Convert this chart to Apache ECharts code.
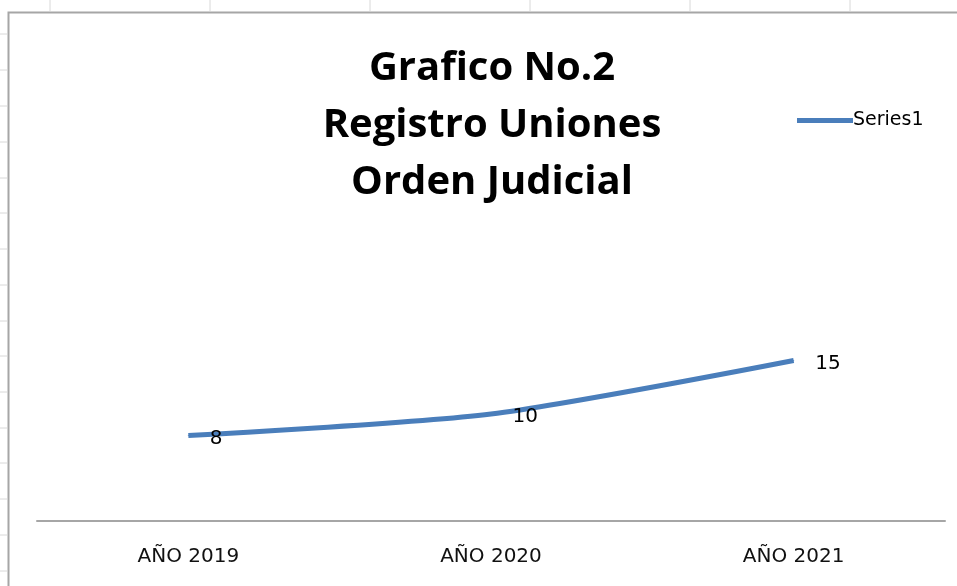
<!DOCTYPE html>
<html><head><meta charset="utf-8">
<script src="https://cdn.jsdelivr.net/npm/echarts@6/dist/echarts.min.js"></script>
<style>html,body{margin:0;padding:0;background:#fff}#c{width:957px;height:586px}</style>
</head><body><div id="c"></div>
<script>
const categories = ['AÑO 2019', 'AÑO 2020', 'AÑO 2021'];
const seriesName = 'Series1';
const values = [8, 10, 15];
const titleLines = ['Grafico No.2', 'Registro Uniones', 'Orden Judicial'];

const chart = echarts.init(document.getElementById('c'));
const sheetMarks = [];
// Excel sheet column ticks (top strip) and row ticks (left strip)
[50, 210, 370, 530, 690, 850].forEach(x => sheetMarks.push({type:'line', shape:{x1:x, y1:0, x2:x, y2:11}, style:{stroke:'#d8d8d8', lineWidth:1}, silent:true}));
[34, 70, 106, 142, 178, 213, 249, 285, 321, 356, 392, 428, 463, 499, 535, 571].forEach(y => sheetMarks.push({type:'line', shape:{x1:0, y1:y, x2:7, y2:y}, style:{stroke:'#d8d8d8', lineWidth:1}, silent:true}));
sheetMarks.push({type:'polyline', shape:{points:[[8.5,586],[8.5,12.5],[957,12.5]]}, style:{stroke:'#a6a6a6', lineWidth:2, fill:null}, silent:true});

chart.setOption({
  animation: false,
  backgroundColor: '#fff',
  title: {
    text: titleLines.join('\n'),
    left: 487, top: 35, textAlign: 'center',
    textStyle: {fontFamily: 'Open Sans', fontWeight: 'bold', fontSize: 40, lineHeight: 57, color: '#000'}
  },
  legend: {
    left: 792, top: 106, itemWidth: 56, itemHeight: 20, itemGap: 0,
    textStyle: {fontFamily: 'DejaVu Sans', fontSize: 19, color: '#000', padding: [0,0,0,-5]},
    data: [{name: seriesName, icon: 'path://M0,0L56,0L56,5L0,5Z'}]
  },
  grid: {left: 37, right: 12, top: 93, bottom: 65},
  xAxis: {
    type: 'category', data: categories, boundaryGap: true,
    axisLine: {lineStyle: {color: '#a6a6a6', width: 2}},
    axisTick: {show: false},
    axisLabel: {margin: 26, fontFamily: 'DejaVu Sans', fontSize: 20, color: '#111'}
  },
  yAxis: {type: 'value', min: 0, max: 40, show: false, splitLine: {show: false}},
  series: [{
    name: seriesName, type: 'line', data: values, smooth: 0.25,
    symbol: 'circle', symbolSize: 1, showSymbol: true, color: '#4a7ebb',
    itemStyle: {color: '#4a7ebb'},
    lineStyle: {width: 5, color: '#4a7ebb'},
    label: {show: true, position: 'right', distance: 21, offset: [0, 3], fontFamily: 'DejaVu Sans', fontSize: 20, color: '#000'}
  }],
  graphic: sheetMarks
});
</script></body></html>
